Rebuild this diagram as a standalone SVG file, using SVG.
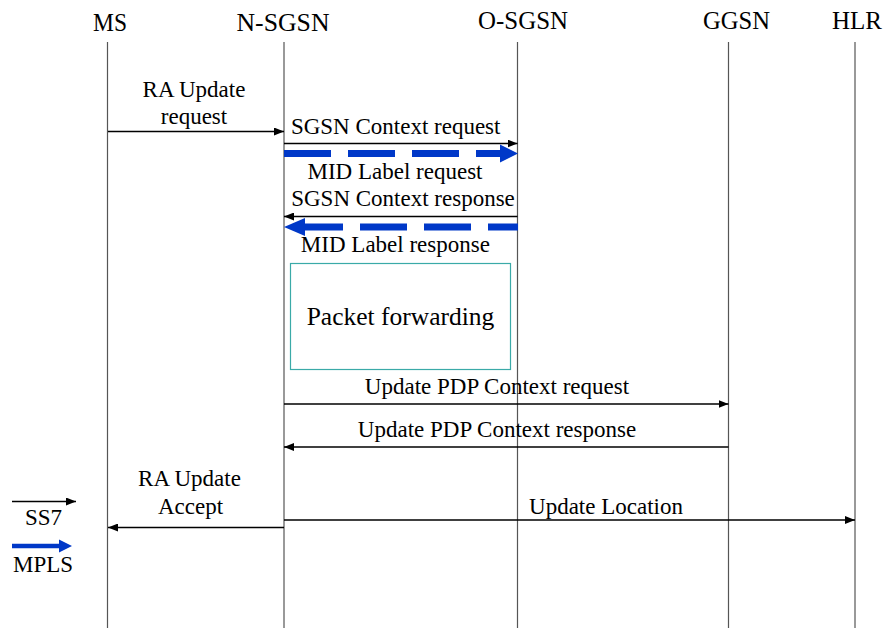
<svg xmlns="http://www.w3.org/2000/svg" width="883" height="628" viewBox="0 0 883 628">
<defs>
<style>
text{font-family:"Liberation Serif","Times New Roman",serif;fill:#000;text-anchor:middle}
.hdr{font-size:26px}
.lbl{font-size:23px}
.life{stroke:#555;stroke-width:1.2;fill:none}
.msg{stroke:#000;stroke-width:1.6;fill:none}
.mpls{stroke:#0038c8;stroke-width:7;fill:none;stroke-dasharray:47 17}
.bluehead{fill:#0038c8}
</style>
<marker id="ah" viewBox="0 0 10 8" refX="10" refY="4" markerWidth="10" markerHeight="8" markerUnits="userSpaceOnUse" orient="auto">
<path d="M0,0 L10,4 L0,8 z" fill="#000"/>
</marker>
</defs>
<rect width="883" height="628" fill="#fff"/>

<g id="lifelines">
<g id="node-MS"><text class="hdr" x="110" y="31" textLength="34" lengthAdjust="spacingAndGlyphs">MS</text><line class="life" x1="107.5" y1="42" x2="107.5" y2="628"/></g>
<g id="node-N-SGSN"><text class="hdr" x="283" y="31" textLength="93" lengthAdjust="spacingAndGlyphs">N-SGSN</text><line class="life" x1="284" y1="42" x2="284" y2="628"/></g>
<g id="node-O-SGSN"><text class="hdr" x="523" y="29" textLength="90" lengthAdjust="spacingAndGlyphs">O-SGSN</text><line class="life" x1="517.5" y1="42" x2="517.5" y2="628"/></g>
<g id="node-GGSN"><text class="hdr" x="736.5" y="29" textLength="67" lengthAdjust="spacingAndGlyphs">GGSN</text><line class="life" x1="728.5" y1="42" x2="728.5" y2="628"/></g>
<g id="node-HLR"><text class="hdr" x="857" y="29" textLength="50" lengthAdjust="spacingAndGlyphs">HLR</text><line class="life" x1="855" y1="42" x2="855" y2="628"/></g>
</g>

<g id="node-packet-forwarding">
<rect x="290.5" y="263.5" width="220" height="106" fill="none" stroke="#3aaaa8" stroke-width="1.2"/>
<text x="400.5" y="325" style="font-size:25.5px">Packet forwarding</text>
</g>

<g id="connectors">
<line class="msg" x1="108" y1="131.5" x2="284" y2="131.5" marker-end="url(#ah)"/>
<line class="msg" x1="284" y1="143.5" x2="517.5" y2="143.5" marker-end="url(#ah)"/>
<line class="mpls" x1="284" y1="153.5" x2="501" y2="153.5"/>
<polygon class="bluehead" points="500,144.5 518,153.5 500,162.5"/>
<line class="msg" x1="517.5" y1="216.5" x2="284" y2="216.5" marker-end="url(#ah)"/>
<line class="mpls" x1="518" y1="227" x2="304" y2="227" style="stroke-dashoffset:17"/>
<polygon class="bluehead" points="305,218 284,227 305,236"/>
<line class="msg" x1="284" y1="404" x2="728.5" y2="404" marker-end="url(#ah)"/>
<line class="msg" x1="728.5" y1="447" x2="284" y2="447" marker-end="url(#ah)"/>
<line class="msg" x1="284" y1="527.5" x2="108" y2="527.5" marker-end="url(#ah)"/>
<line class="msg" x1="284" y1="520" x2="855" y2="520" marker-end="url(#ah)"/>
<line class="msg" x1="12" y1="501.5" x2="76" y2="501.5" marker-end="url(#ah)"/>
<line x1="12" y1="546" x2="60" y2="546" stroke="#0038c8" stroke-width="4.5"/>
<polygon class="bluehead" points="59,539.5 72,546 59,552.5"/>
</g>

<g id="labels">
<text class="lbl" x="194" y="97">RA Update</text>
<text class="lbl" x="194" y="124">request</text>
<text class="lbl" x="395.7" y="134">SGSN Context request</text>
<text class="lbl" x="395" y="179">MID Label request</text>
<text class="lbl" x="403" y="206">SGSN Context response</text>
<text class="lbl" x="395.4" y="252">MID Label response</text>
<text class="lbl" x="497" y="394">Update PDP Context request</text>
<text class="lbl" x="497" y="437">Update PDP Context response</text>
<text class="lbl" x="189.5" y="486">RA Update</text>
<text class="lbl" x="190.5" y="514">Accept</text>
<text class="lbl" x="606" y="514">Update Location</text>
<text class="lbl" x="43.5" y="525">SS7</text>
<text class="lbl" x="43" y="572">MPLS</text>
</g>
</svg>
